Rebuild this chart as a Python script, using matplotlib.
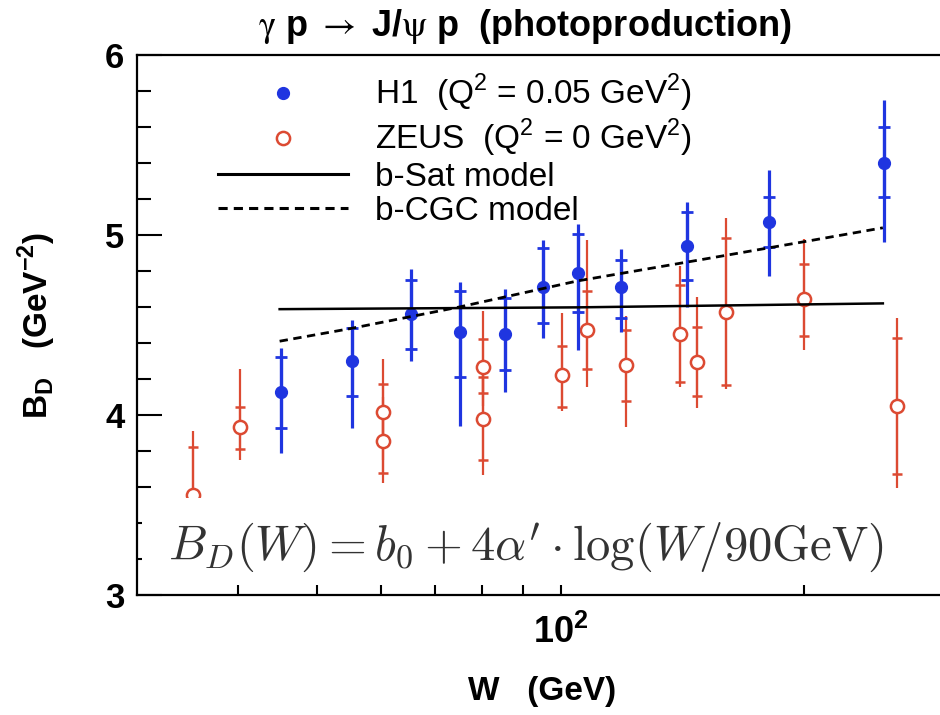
#!/usr/bin/env python3
import matplotlib
matplotlib.use("Agg")
import matplotlib.pyplot as plt
from matplotlib.lines import Line2D
from matplotlib.patches import Rectangle
from matplotlib.ticker import NullFormatter, FixedLocator
import numpy as np

plt.rcParams['font.family'] = ['Liberation Sans', 'DejaVu Sans']

# H1 data (Q^2 = 0.05 GeV^2)
h1W = [45.2, 55.2, 65.3, 75.1, 85.3, 95.2, 105.2, 118.9, 143.3, 181.0, 250.5]
h1B = [4.13, 4.30, 4.56, 4.46, 4.45, 4.71, 4.79, 4.71, 4.94, 5.07, 5.40]
h1TotHi = [4.37, 4.53, 4.81, 4.74, 4.70, 4.97, 5.06, 4.92, 5.185, 5.36, 5.75]
h1TotLo = [3.79, 3.93, 4.30, 3.94, 4.13, 4.43, 4.36, 4.46, 4.60, 4.77, 4.96]
h1StatHi = [4.32, 4.485, 4.75, 4.69, 4.65, 4.93, 5.005, 4.86, 5.13, 5.21, 5.60]
h1StatLo = [3.93, 4.105, 4.365, 4.21, 4.25, 4.51, 4.57, 4.54, 4.75, 4.935, 5.21]

# ZEUS data (Q^2 = 0 GeV^2)
zeusW = [35.2, 40.2, 60.3, 60.3, 80.2, 80.2, 100.5, 107.9, 120.5, 140.3, 147.4, 160.0, 200.0, 260.0]
zeusB = [3.556, 3.933, 4.017, 3.857, 4.268, 3.976, 4.22, 4.47, 4.278, 4.45, 4.296, 4.574, 4.643, 4.05]
zeusTotHi = [3.91, 4.254, 4.31, 4.10, 4.58, 4.25, 4.565, 4.97, 4.55, 4.83, 4.654, 5.096, 4.98, 4.54]
zeusTotLo = [3.20, 3.75, 3.75, 3.62, 4.05, 3.667, 4.02, 4.157, 3.935, 4.157, 4.04, 4.144, 4.36, 3.596]
zeusStatHi = [3.82, 4.046, 4.17, 4.00, 4.42, 4.21, 4.385, 4.69, 4.47, 4.72, 4.49, 4.985, 4.84, 4.426]
zeusStatLo = [3.29, 3.81, 3.87, 3.68, 4.12, 3.75, 4.046, 4.254, 4.08, 4.185, 4.107, 4.167, 4.44, 3.67]

# model curves
satW = [45, 105, 250]
satB = [4.588, 4.598, 4.620]
cgcW = [45, 55, 75, 105, 150, 200, 250]
cgcB = [4.41, 4.48, 4.60, 4.745, 4.865, 4.963, 5.04]

h1Color = "#1f35e0"
zeusColor = "#dc4a32"

def errs(b, lo, hi):
    b = np.array(b)
    return [b - np.array(lo), np.array(hi) - b]

fig = plt.figure(figsize=(9.4, 7.15), dpi=100)
ax = fig.add_axes([137/940, 120/715, 810/940, 540/715])
ax.set_xscale("log")
ax.set_xlim(30, 300)
ax.set_ylim(3, 6)

# total errors (plain line), stat errors (with small caps)
ax.errorbar(zeusW, zeusB, yerr=errs(zeusB, zeusTotLo, zeusTotHi), fmt="none",
            ecolor=zeusColor, elinewidth=1.6, zorder=2)
ax.errorbar(zeusW, zeusB, yerr=errs(zeusB, zeusStatLo, zeusStatHi), fmt="o",
            color=zeusColor, ecolor=zeusColor, elinewidth=1.6, capsize=3.5, capthick=1.6,
            ms=9.5, mfc="white", mec=zeusColor, mew=1.8, zorder=2)
ax.errorbar(h1W, h1B, yerr=errs(h1B, h1TotLo, h1TotHi), fmt="none",
            ecolor=h1Color, elinewidth=2.3, zorder=2.2)
ax.errorbar(h1W, h1B, yerr=errs(h1B, h1StatLo, h1StatHi), fmt="o",
            color=h1Color, ecolor=h1Color, elinewidth=2.3, capsize=4, capthick=2,
            ms=8.5, mec=h1Color, zorder=2.2)

ax.plot(satW, satB, color="black", lw=1.8, zorder=3)
ax.plot(cgcW, cgcB, color="black", lw=2.0, ls=(0, (3, 2)), zorder=3)

# white patch behind the formula (it hides part of the lowest points)
ax.add_patch(Rectangle((0.006, 0.018), 0.967, 0.162, transform=ax.transAxes,
                       facecolor="white", edgecolor="none", zorder=4))
ax.text(0.48, 0.088, r"$B_D(W) = b_0 + 4\alpha' \cdot \log(W/90\mathrm{GeV})$",
        transform=ax.transAxes, ha="center", va="center", fontsize=35,
        color="#333333", math_fontfamily="cm", zorder=5)

# axes styling
for side in ["left", "bottom", "top", "right"]:
    ax.spines[side].set_linewidth(1.6)
ax.xaxis.set_major_locator(FixedLocator([100]))
ax.xaxis.set_minor_locator(FixedLocator([40, 50, 60, 70, 80, 90, 200]))
ax.xaxis.set_minor_formatter(NullFormatter())
ax.set_xticklabels([r"10$^{\mathregular{2}}$"], fontsize=26, fontweight="bold")
ax.set_yticks([3, 4, 5, 6])
ax.set_yticks(np.arange(3.2, 6.0, 0.2), minor=True)
ax.set_yticklabels(["3", "4", "5", "6"], fontsize=25, fontweight="bold")
ax.tick_params(which="both", direction="in", top=False, right=False, width=1.5)
ax.tick_params(axis="y", which="major", length=18, pad=9)
ax.tick_params(axis="y", which="minor", length=10)
ax.tick_params(axis="x", which="major", length=13, pad=14)
ax.tick_params(axis="x", which="minor", length=9)

ax.set_xlabel("W   (GeV)", fontsize=24, fontweight="bold", labelpad=18)
ax.set_ylabel(r"B$_{\mathregular{D}}$   (GeV$^{\mathregular{-2}}$)", fontsize=24,
              fontweight="bold", labelpad=34)

fig.text(525/940, 1 - 26/715,
         r"$\mathrm{\gamma}$ p $\rightarrow$ J/$\mathrm{\psi}$ p  (photoproduction)",
         ha="center", va="center", fontsize=26, fontweight="bold", math_fontfamily="stix")

handles = [
    Line2D([], [], ls="none", marker="o", ms=8.5, color=h1Color),
    Line2D([], [], ls="none", marker="o", ms=9.5, mfc="white", mec=zeusColor, mew=1.8),
    Line2D([], [], color="black", lw=2.2),
    Line2D([], [], color="black", lw=2.2, ls=(0, (3, 2))),
]
labels = [
    r"H1  (Q$^{\mathregular{2}}$ = 0.05 GeV$^{\mathregular{2}}$)",
    r"ZEUS  (Q$^{\mathregular{2}}$ = 0 GeV$^{\mathregular{2}}$)",
    "b-Sat model",
    "b-CGC model",
]
ax.legend(handles, labels, loc="upper left", bbox_to_anchor=(0.1, 0.968),
          frameon=False, fontsize=24, handlelength=3.9, handletextpad=0.8,
          labelspacing=0.08, borderpad=0, borderaxespad=0, numpoints=1)

fig.savefig("out.png", dpi=100)
